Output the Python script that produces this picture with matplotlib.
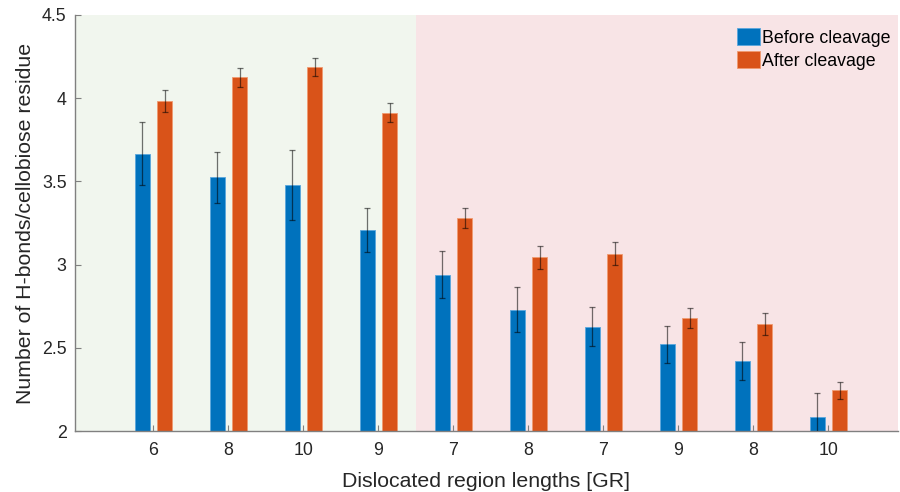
import matplotlib
matplotlib.use("Agg")
import matplotlib.pyplot as plt
import numpy as np

plt.rcParams["font.family"] = ["Liberation Sans", "DejaVu Sans"]

# data
labels = ["6", "8", "10", "9", "7", "8", "7", "9", "8", "10"]
before = [3.667, 3.525, 3.48, 3.208, 2.94, 2.729, 2.627, 2.521, 2.419, 2.086]
before_err = [0.19, 0.153, 0.21, 0.134, 0.14, 0.135, 0.118, 0.112, 0.113, 0.14]
after = [3.983, 4.125, 4.187, 3.913, 3.282, 3.044, 3.064, 2.677, 2.643, 2.245]
after_err = [0.065, 0.055, 0.052, 0.057, 0.06, 0.07, 0.069, 0.061, 0.067, 0.05]
n_green = 4  # first four groups on the green background

BLUE = "#0072BD"
ORANGE = "#D95319"
AXIS = "#808080"

fig = plt.figure(figsize=(9, 4.92), dpi=100)
ax = fig.add_axes([75 / 900, 1 - 431 / 492, 823 / 900, 416 / 492])

x = np.arange(len(labels))
xlo, xhi = -1.044, 9.93
ax.axvspan(xlo, n_green - 0.5, color="#f1f6ee", zorder=0, lw=0)
ax.axvspan(n_green - 0.5, xhi, color="#f8e4e6", zorder=0, lw=0)

w = 0.2
off = 0.15
ax.bar(x - off, before, w, color=BLUE, edgecolor="#5aa7dd", linewidth=0.6,
       label="Before cleavage", zorder=2)
ax.bar(x + off, after, w, color=ORANGE, edgecolor="#f09a70", linewidth=0.6,
       label="After cleavage", zorder=2)
ax.errorbar(x - off, before, yerr=before_err, fmt="none", ecolor="black",
            alpha=0.55, elinewidth=0.9, capsize=1.9, capthick=0.9, zorder=3)
ax.errorbar(x + off, after, yerr=after_err, fmt="none", ecolor="black",
            alpha=0.55, elinewidth=0.9, capsize=1.9, capthick=0.9, zorder=3)

ax.set_xlim(xlo, xhi)
ax.set_ylim(2, 4.5)
ax.set_xticks(x)
ax.set_xticklabels(labels)
ax.set_yticks([2, 2.5, 3, 3.5, 4, 4.5])
ax.set_yticklabels(["2", "2.5", "3", "3.5", "4", "4.5"])
ax.tick_params(direction="in", length=4, width=0.8, color=AXIS,
               labelsize=12.8, labelcolor="#262626")
ax.tick_params(axis="x", pad=8)
ax.tick_params(axis="y", pad=6)

for s in ["top", "right"]:
    ax.spines[s].set_visible(False)
for s in ["left", "bottom"]:
    ax.spines[s].set_color(AXIS)
    ax.spines[s].set_linewidth(1.0)

ax.set_xlabel("Dislocated region lengths [GR]", fontsize=15.3, color="#262626",
              labelpad=9)
ax.set_ylabel("Number of H-bonds/cellobiose residue", fontsize=15.3,
              color="#262626", labelpad=5)

ax.legend(loc="upper right", frameon=False, fontsize=12.8, handlelength=1.3,
          handleheight=1.1, handletextpad=0.15, labelspacing=0.25,
          borderaxespad=0.0, bbox_to_anchor=(1.0, 0.985))

fig.savefig("out.png", dpi=100)
